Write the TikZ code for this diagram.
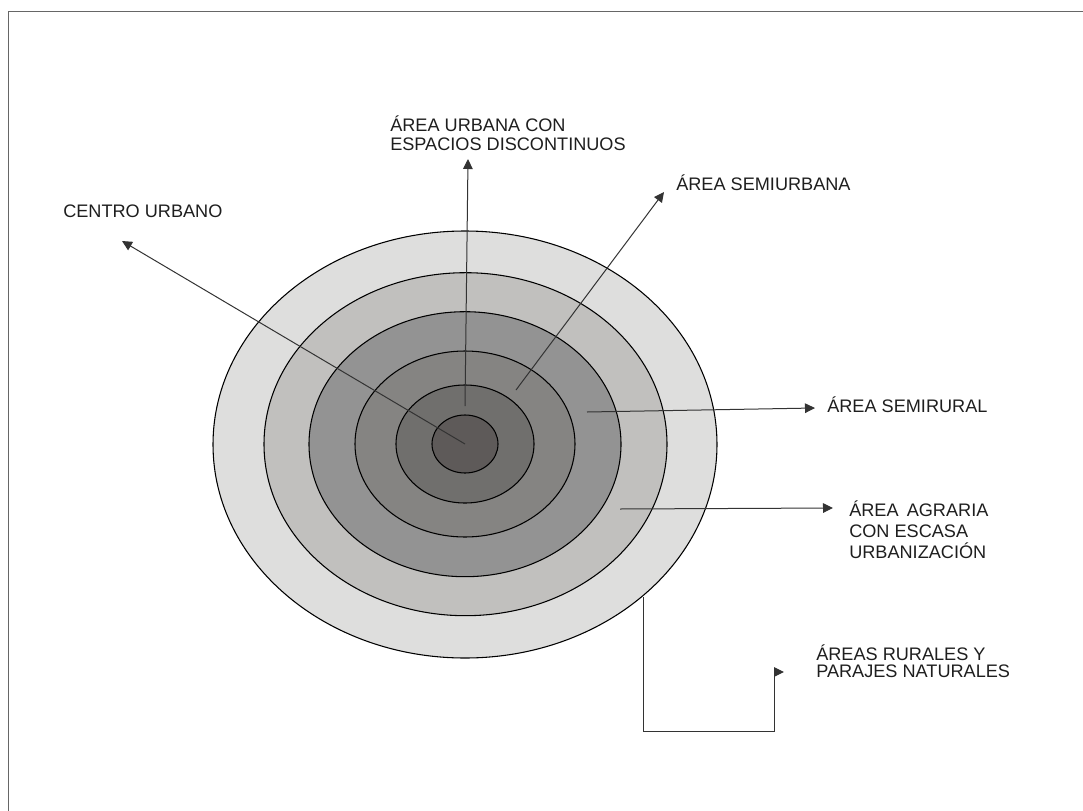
\documentclass[tikz,border=0pt]{standalone}
\usepackage{fontspec}
\setmainfont{Liberation Sans}
\usetikzlibrary{arrows.meta}
\definecolor{ringA}{HTML}{DEDEDD}
\definecolor{ringB}{HTML}{C1C0BE}
\definecolor{ringC}{HTML}{939393}
\definecolor{ringD}{HTML}{858482}
\definecolor{ringE}{HTML}{706F6D}
\definecolor{ringF}{HTML}{5E5A59}
\definecolor{linec}{HTML}{333333}
\definecolor{textc}{HTML}{1E1E1E}
\definecolor{framec}{HTML}{666666}
\begin{document}
\begin{tikzpicture}[x=0.75pt,y=-0.75pt,
  conn/.style={draw=linec, line width=0.75pt, -{Triangle[length=7.5pt,width=7.2pt]}},
  ring/.style={draw=black, line width=0.8pt},
  frameline/.style={draw=framec, line width=1.4pt},
  lbl/.style={anchor=base west, inner sep=0pt, font=\fontsize{13.6}{14.25}\selectfont, text=textc}]
\useasboundingbox (0,0) rectangle (1083,811);
\draw[frameline] (8.5,811) -- (8.5,11.5) -- (1083,11.5);
% rings
\filldraw[ring, fill=ringA] (465,444.5) ellipse [x radius=252, y radius=213.5];
\filldraw[ring, fill=ringB] (465.5,444.2) ellipse [x radius=201.5, y radius=171.5];
\filldraw[ring, fill=ringC] (465,444.2) ellipse [x radius=156, y radius=132.5];
\filldraw[ring, fill=ringD] (465,444) ellipse [x radius=110, y radius=93];
\filldraw[ring, fill=ringE] (465,444) ellipse [x radius=69, y radius=59];
\filldraw[ring, fill=ringF] (465,444) ellipse [x radius=33, y radius=29];
% labels
\node[lbl] (centro) at (63,217) {CENTRO URBANO};
\node[lbl] (urbana) at (390,131) {\vtop{\baselineskip=14.25pt\hbox{ÁREA URBANA CON}\hbox{ESPACIOS DISCONTINUOS}}};
\node[lbl] (semiurb) at (676,190) {ÁREA SEMIURBANA};
\node[lbl] (semirur) at (827,412) {ÁREA SEMIRURAL};
\node[lbl] (agraria) at (849,516) {\vtop{\baselineskip=16.1pt\hbox{ÁREA\hspace{0.45em}AGRARIA}\hbox{CON ESCASA}\hbox{URBANIZACIÓN}}};
\node[lbl] (rurales) at (816,660) {\vtop{\baselineskip=13.1pt\hbox{ÁREAS RURALES Y}\hbox{PARAJES NATURALES}}};
% connector end points
\coordinate (sCentro) at (465,444);
\coordinate (tCentro) at (122,241);
\coordinate (sUrbana) at (465,406);
\coordinate (tUrbana) at (468,159);
\coordinate (sSemiurb) at (516,390);
\coordinate (tSemiurb) at (664,192);
\coordinate (sSemirur) at (587,412);
\coordinate (tSemirur) at (815,408);
\coordinate (sAgraria) at (620,509);
\coordinate (tAgraria) at (833,508);
\coordinate (sRurales) at (643,597);
\coordinate (kRurales) at (774,731);
\coordinate (tRurales) at (784,672);
% connectors
\draw[conn] (sCentro) -- (tCentro);
\draw[conn] (sUrbana) -- (tUrbana);
\draw[conn] (sSemiurb) -- (tSemiurb);
\draw[conn] (sSemirur) -- (tSemirur);
\draw[conn] (sAgraria) -- (tAgraria);
\draw[conn] (sRurales) |- (kRurales) |- (tRurales);
\end{tikzpicture}
\end{document}
